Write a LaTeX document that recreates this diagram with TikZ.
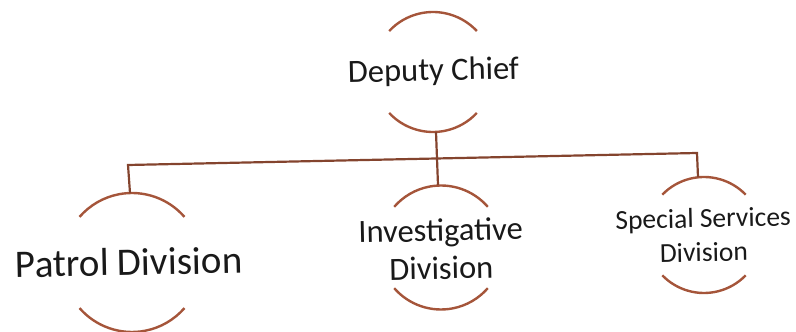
\documentclass[tikz,border=0pt]{standalone}
\usepackage{fontspec}
\setmainfont{Carlito}
\definecolor{arcbrown}{RGB}{165,85,58}
\begin{document}
\begin{tikzpicture}[x=1pt,y=1pt,
  lbl/.style={inner sep=0pt,align=center,rotate=1.2,text=black!90},
  arcline/.style={draw=arcbrown,line width=2.4pt},
  conn/.style={draw=arcbrown!80!black,line width=2.2pt}]
\useasboundingbox (0,0) rectangle (796,332);
% centres
\coordinate (cd) at (433,260);
\coordinate (cp) at (132,69.5);
\coordinate (ci) at (441,84.5);
\coordinate (cs) at (704,97);
% labels
\node[lbl,font=\fontsize{32.5}{38}\selectfont] (dc) at (433.5,260) {Deputy Chief};
\node[lbl,font=\fontsize{39}{45}\selectfont] (pd) at (129,70) {Patrol Division};
\node[lbl,font=\fontsize{32.5}{38}\selectfont] (id) at (441,83) {Investigative\\Division};
\node[lbl,font=\fontsize{27.5}{34}\selectfont] (sd) at (703.5,97) {Special Services\\Division};
% arcs
\draw[arcline] ([shift={(43:60)}]cd) arc (43:137:60);
\draw[arcline] ([shift={(223:60)}]cd) arc (223:317:60);
\draw[arcline] ([shift={(41:69.5)}]cp) arc (41:139:69.5);
\draw[arcline] ([shift={(221:69.5)}]cp) arc (221:319:69.5);
\draw[arcline] ([shift={(41:62)}]ci) arc (41:139:62);
\draw[arcline] ([shift={(221:62)}]ci) arc (221:319:62);
\draw[arcline] ([shift={(44:58)}]cs) arc (44:136:58);
\draw[arcline] ([shift={(224:58)}]cs) arc (224:316:58);
% connector anchor points on the circles
\coordinate (dBot) at (436,200);
\coordinate (pTop) at (130,139);
\coordinate (iTop) at (438,147);
\coordinate (sTop) at (698,155);
\coordinate (bL) at (128,167);
\coordinate (bR) at (697,179);
% connectors
\draw[conn] (pTop) -- (bL) -- (bR) -- (sTop);
\draw[conn] (dBot) -- (iTop);
\end{tikzpicture}
\end{document}
